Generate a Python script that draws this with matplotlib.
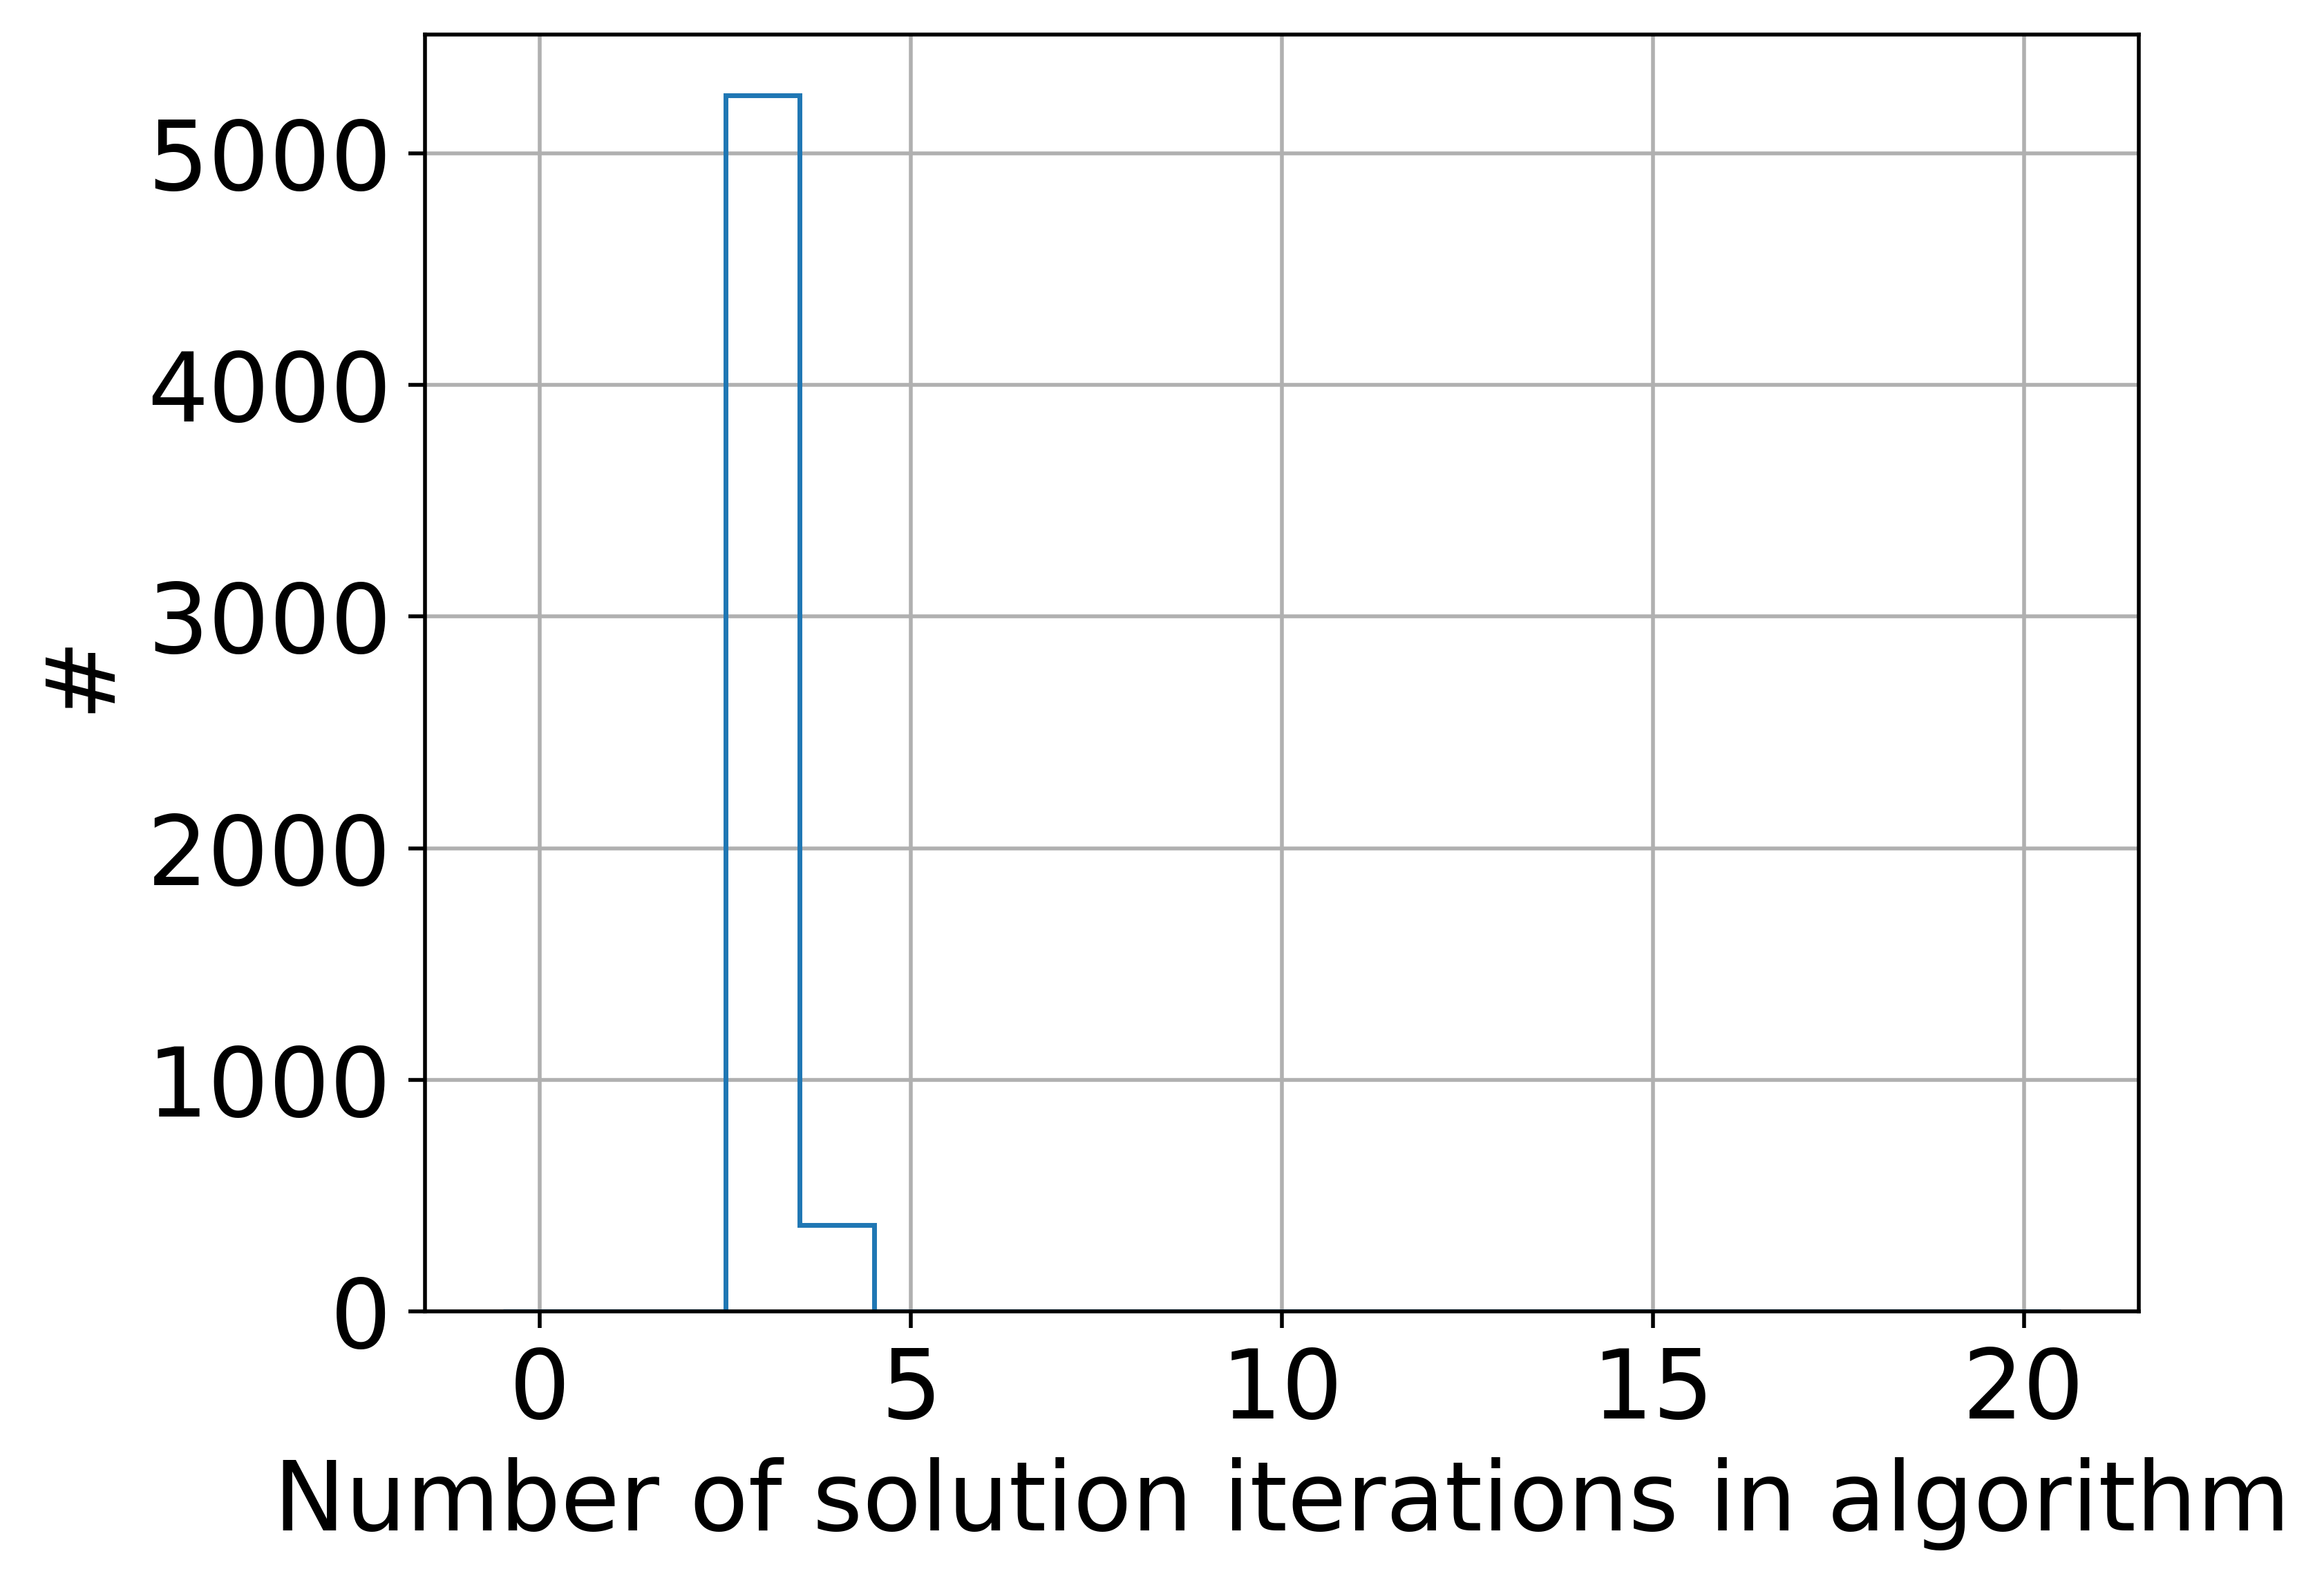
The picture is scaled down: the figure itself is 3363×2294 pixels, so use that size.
import numpy as np
import matplotlib
matplotlib.use('Agg')
import matplotlib.pyplot as plt

# Iteration counts (bins centred on integers 0..20)
iterations = np.arange(0, 21)
counts = [0, 0, 0, 5250, 374, 0, 0, 0, 0, 0, 0,
          0, 0, 0, 0, 0, 0, 0, 0, 0, 0]
bin_edges = np.arange(-0.5, 21.5, 1.0)

fig = plt.figure(figsize=(3363 / 500, 2294 / 500), dpi=500)
ax = fig.add_axes([0.1829, 0.1726, 0.9203 - 0.1829, 0.9782 - 0.1726])

ax.hist(iterations, bins=bin_edges, weights=counts, histtype='step', linewidth=1.0)
ax.grid(True)
ax.set_axisbelow(True)
ax.set_xticks([0, 5, 10, 15, 20])
ax.tick_params(labelsize=20)
ax.set_xlabel('Number of solution iterations in algorithm', fontsize=20)
ax.set_ylabel('#', fontsize=20)

fig.savefig('out.png', dpi=500)
